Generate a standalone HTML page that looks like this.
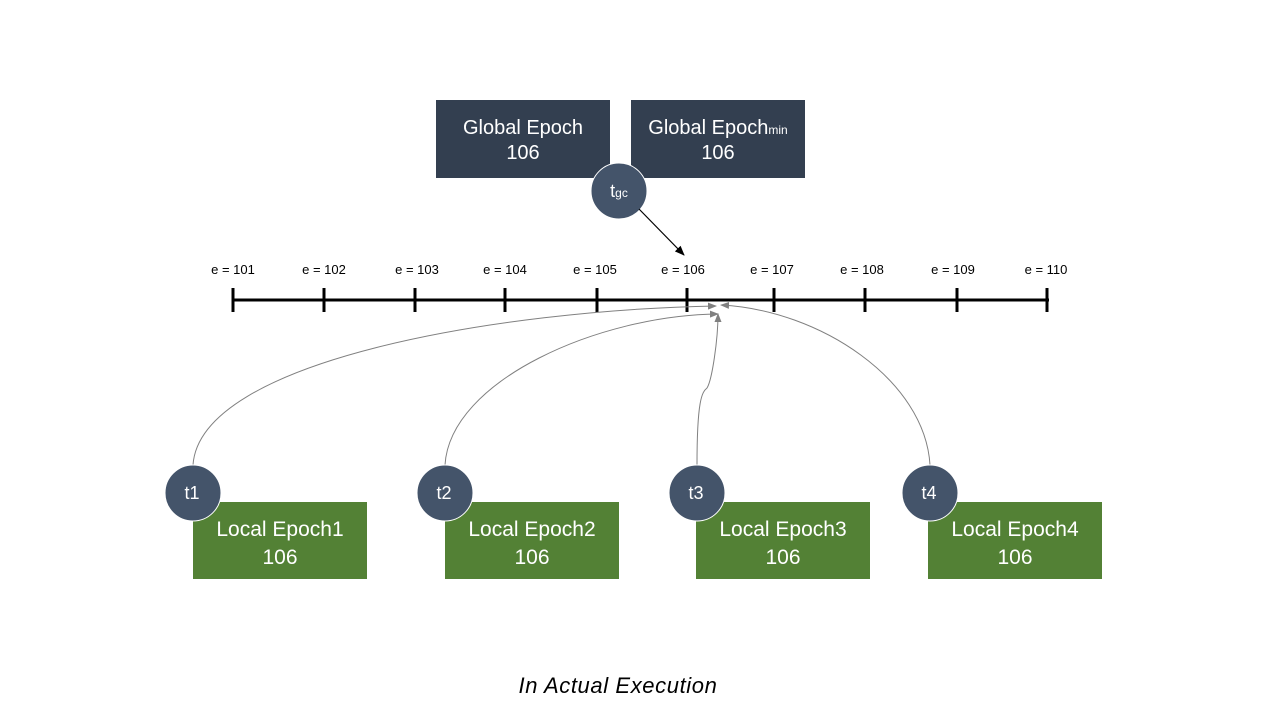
<!DOCTYPE html>
<html><head><style>
body{margin:0;background:#fff;}
svg text{font-family:"Liberation Sans",Arial,sans-serif;}
</style></head><body>
<svg width="1280" height="720" xmlns="http://www.w3.org/2000/svg">
<defs>
<marker id="ab" markerWidth="10" markerHeight="10" refX="9" refY="5" orient="auto" markerUnits="userSpaceOnUse"><path d="M0,1 L10,5 L0,9 Z" fill="#000"/></marker>
<marker id="ag" markerWidth="9" markerHeight="9" refX="8" refY="4.5" orient="auto" markerUnits="userSpaceOnUse"><path d="M0,1 L9,4.5 L0,8 Z" fill="#808080"/></marker>
</defs>
<rect x="436" y="100" width="174" height="78" fill="#333f50"/>
<rect x="631" y="100" width="174" height="78" fill="#333f50"/>
<text x="523" y="134" fill="#fff" font-size="20" text-anchor="middle">Global Epoch</text>
<text x="523" y="159" fill="#fff" font-size="20" text-anchor="middle">106</text>
<text x="718" y="134" fill="#fff" font-size="20" text-anchor="middle">Global Epoch<tspan font-size="12">min</tspan></text>
<text x="718" y="159" fill="#fff" font-size="20" text-anchor="middle">106</text>
<circle cx="619" cy="191" r="28" fill="#44546a" stroke="#fff" stroke-width="1"/>
<text x="619" y="197" fill="#fff" font-size="18" text-anchor="middle">t<tspan font-size="12">gc</tspan></text>
<line x1="639" y1="209" x2="684" y2="255" stroke="#000" stroke-width="1.2" marker-end="url(#ab)"/>
<g font-size="13" text-anchor="middle" fill="#000">
<text x="233" y="274">e = 101</text><text x="324" y="274">e = 102</text><text x="417" y="274">e = 103</text><text x="505" y="274">e = 104</text><text x="595" y="274">e = 105</text><text x="683" y="274">e = 106</text><text x="772" y="274">e = 107</text><text x="862" y="274">e = 108</text><text x="953" y="274">e = 109</text><text x="1046" y="274">e = 110</text>
</g>
<g stroke="#000" stroke-width="3">
<line x1="232" y1="300" x2="1049" y2="300"/>
<line x1="233" y1="288" x2="233" y2="312"/><line x1="324" y1="288" x2="324" y2="312"/><line x1="415" y1="288" x2="415" y2="312"/><line x1="505" y1="288" x2="505" y2="312"/><line x1="597" y1="288" x2="597" y2="312"/><line x1="687" y1="288" x2="687" y2="312"/><line x1="774" y1="288" x2="774" y2="312"/><line x1="865" y1="288" x2="865" y2="312"/><line x1="957" y1="288" x2="957" y2="312"/><line x1="1047" y1="288" x2="1047" y2="312"/>
</g>
<g fill="none" stroke="#808080" stroke-width="1">
<path d="M193,465 C200,360 500,310 716,306" marker-end="url(#ag)"/>
<path d="M445,465 C450,380 600,315 718,314" marker-end="url(#ag)"/>
<path d="M697,465 C697,400 702,392 707,388 C712,380 718,340 718,314" marker-end="url(#ag)"/>
<path d="M930,465 C925,380 820,310 721,305" marker-end="url(#ag)"/>
</g>
<g fill="#538135">
<rect x="193" y="502" width="174" height="77"/><rect x="445" y="502" width="174" height="77"/><rect x="696" y="502" width="174" height="77"/><rect x="928" y="502" width="174" height="77"/>
</g>
<g fill="#fff" font-size="21" text-anchor="middle">
<text x="280" y="536">Local Epoch1</text><text x="280" y="564">106</text>
<text x="532" y="536">Local Epoch2</text><text x="532" y="564">106</text>
<text x="783" y="536">Local Epoch3</text><text x="783" y="564">106</text>
<text x="1015" y="536">Local Epoch4</text><text x="1015" y="564">106</text>
</g>
<g fill="#44546a" stroke="#fff" stroke-width="1">
<circle cx="193" cy="493" r="28"/><circle cx="445" cy="493" r="28"/><circle cx="697" cy="493" r="28"/><circle cx="930" cy="493" r="28"/>
</g>
<g fill="#fff" font-size="18" text-anchor="middle">
<text x="192" y="499">t1</text><text x="444" y="499">t2</text><text x="696" y="499">t3</text><text x="929" y="499">t4</text>
</g>
<text x="618" y="693" font-size="22" font-style="italic" letter-spacing="0.6" text-anchor="middle" fill="#000">In Actual Execution</text>
</svg>
</body></html>
